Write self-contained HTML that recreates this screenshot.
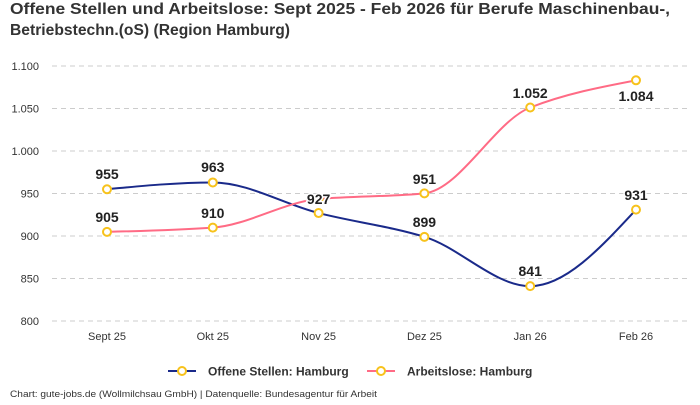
<!DOCTYPE html>
<html><head><meta charset="utf-8"><style>
body{margin:0;background:#fff;font-family:"Liberation Sans",sans-serif}
</style></head><body>
<svg width="700" height="400" xmlns="http://www.w3.org/2000/svg" font-family="Liberation Sans, sans-serif">
<text x="10" y="14" font-size="16" font-weight="bold" fill="#333" textLength="660" lengthAdjust="spacingAndGlyphs">Offene Stellen und Arbeitslose: Sept 2025 - Feb 2026 für Berufe Maschinenbau-,</text>
<text x="10" y="35" font-size="16" font-weight="bold" fill="#333" textLength="280" lengthAdjust="spacingAndGlyphs">Betriebstechn.(oS) (Region Hamburg)</text>
<g stroke="#ccc" stroke-dasharray="5,4" stroke-width="1">
<line x1="52" x2="688" y1="66" y2="66"/><line x1="52" x2="688" y1="108.5" y2="108.5"/>
<line x1="52" x2="688" y1="151" y2="151"/><line x1="52" x2="688" y1="193.5" y2="193.5"/>
<line x1="52" x2="688" y1="236" y2="236"/><line x1="52" x2="688" y1="278.5" y2="278.5"/>
<line x1="52" x2="688" y1="321" y2="321"/></g>
<g font-size="11" fill="#333" text-anchor="end">
<text x="39" y="70">1.100</text><text x="39" y="112.5">1.050</text><text x="39" y="155">1.000</text>
<text x="39" y="197.5">950</text><text x="39" y="240">900</text><text x="39" y="282.5">850</text><text x="39" y="325">800</text></g>
<g font-size="11" fill="#333" text-anchor="middle">
<text x="107" y="340">Sept 25</text><text x="212.8" y="340">Okt 25</text><text x="318.6" y="340">Nov 25</text>
<text x="424.4" y="340">Dez 25</text><text x="530.2" y="340">Jan 26</text><text x="636" y="340">Feb 26</text></g>
<path d="M107,189.25 C142.3,185.85 177.5,182.45 212.8,182.45 C248.1,182.45 283.3,204.15 318.6,213.05 C353.9,221.95 389.1,226.15 424.4,236.85 C459.7,247.55 494.9,286.15 530.2,286.15 C565.5,286.15 600.7,247.65 636,209.65" fill="none" stroke="#1a2a8a" stroke-width="2"/>
<path d="M107,231.85 C142.3,230.98 177.5,230.1 212.8,227.6 C248.1,225.1 283.3,202.2 318.6,199 C353.9,195.8 389.1,196.85 424.4,193.35 C459.7,189.85 494.9,121.3 530.2,107.5 C565.5,93.7 600.7,87 636,80.3" fill="none" stroke="#ff6b85" stroke-width="2"/>
<g fill="#fff" stroke="#f7c21b" stroke-width="2">
<circle cx="107" cy="189.25" r="4"/><circle cx="212.8" cy="182.45" r="4"/><circle cx="318.6" cy="213.05" r="4"/>
<circle cx="424.4" cy="236.85" r="4"/><circle cx="530.2" cy="286.15" r="4"/><circle cx="636" cy="209.65" r="4"/>
<circle cx="107" cy="231.85" r="4"/><circle cx="212.8" cy="227.6" r="4"/><circle cx="318.6" cy="199" r="4"/>
<circle cx="424.4" cy="193.35" r="4"/><circle cx="530.2" cy="107.5" r="4"/><circle cx="636" cy="80.3" r="4"/></g>
<g font-size="14" font-weight="bold" fill="#222" text-anchor="middle" stroke="#fff" stroke-width="3" paint-order="stroke">
<text x="107" y="179">955</text><text x="212.8" y="172">963</text><text x="318.6" y="204">927</text>
<text x="424.4" y="227">899</text><text x="530.2" y="276">841</text><text x="636" y="200">931</text>
<text x="107" y="222">905</text><text x="212.8" y="218">910</text>
<text x="424.4" y="184">951</text><text x="530.2" y="98">1.052</text><text x="636" y="101">1.084</text></g>
<line x1="168" x2="196" y1="371" y2="371" stroke="#1a2a8a" stroke-width="2"/>
<circle cx="182" cy="371" r="4" fill="#fff" stroke="#f7c21b" stroke-width="2"/>
<text x="208" y="375.5" font-size="12" font-weight="bold" fill="#333">Offene Stellen: Hamburg</text>
<line x1="367" x2="395" y1="371" y2="371" stroke="#ff6b85" stroke-width="2"/>
<circle cx="381" cy="371" r="4" fill="#fff" stroke="#f7c21b" stroke-width="2"/>
<text x="407" y="375.5" font-size="12" font-weight="bold" fill="#333">Arbeitslose: Hamburg</text>
<text x="10" y="397" font-size="9.5" fill="#333" textLength="367" lengthAdjust="spacingAndGlyphs">Chart: gute-jobs.de (Wollmilchsau GmbH) | Datenquelle: Bundesagentur für Arbeit</text>
</svg>
</body></html>
